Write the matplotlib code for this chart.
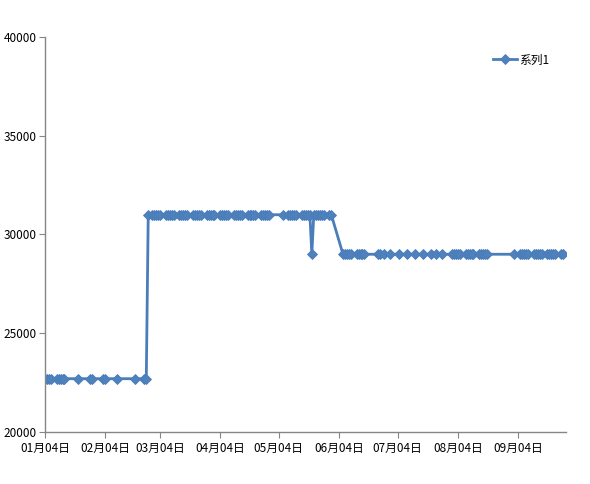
import datetime as dt
import matplotlib
matplotlib.use("Agg")
import matplotlib.pyplot as plt
import matplotlib.dates as mdates

YEAR = 2011

# Jan - Feb, low level
dates_a = ["01-04", "01-05", "01-06", "01-07", "01-10", "01-11", "01-12", "01-13", "01-14",
           "01-21", "01-27", "01-28", "02-03", "02-04", "02-10", "02-19", "02-24", "02-25"]
prices_a = [22700, 22700, 22700, 22700, 22700, 22700, 22700, 22700, 22700,
            22700, 22700, 22700, 22700, 22700, 22700, 22700, 22700, 22700]

# end of Feb - April, high level
dates_b = ["02-26", "02-28", "03-01", "03-02", "03-03", "03-04",
           "03-07", "03-08", "03-09", "03-10", "03-11",
           "03-14", "03-15", "03-16", "03-17", "03-18",
           "03-21", "03-22", "03-23", "03-24", "03-25",
           "03-28", "03-29", "03-30", "03-31", "04-01",
           "04-04", "04-05", "04-06", "04-07", "04-08",
           "04-11", "04-12", "04-13", "04-14", "04-15",
           "04-18", "04-19", "04-20", "04-21", "04-22",
           "04-25", "04-26", "04-27", "04-28", "04-29"]
prices_b = [31000, 31000, 31000, 31000, 31000, 31000,
            31000, 31000, 31000, 31000, 31000,
            31000, 31000, 31000, 31000, 31000,
            31000, 31000, 31000, 31000, 31000,
            31000, 31000, 31000, 31000, 31000,
            31000, 31000, 31000, 31000, 31000,
            31000, 31000, 31000, 31000, 31000,
            31000, 31000, 31000, 31000, 31000,
            31000, 31000, 31000, 31000, 31000]

# May, high level with one dip
dates_c = ["05-06", "05-09", "05-10", "05-11", "05-12", "05-13",
           "05-16", "05-17", "05-18", "05-19", "05-20", "05-21", "05-22",
           "05-23", "05-24", "05-25", "05-26", "05-27", "05-30", "05-31"]
prices_c = [31000, 31000, 31000, 31000, 31000, 31000,
            31000, 31000, 31000, 31000, 31000, 29000, 31000,
            31000, 31000, 31000, 31000, 31000, 31000, 31000]

# June - September, middle level
dates_d = ["06-06", "06-07", "06-08", "06-09", "06-10",
           "06-13", "06-14", "06-15", "06-16", "06-17",
           "06-24", "06-25", "06-27", "06-30", "07-05", "07-09", "07-13",
           "07-17", "07-21", "07-24", "07-27",
           "08-01", "08-02", "08-03", "08-04", "08-05",
           "08-08", "08-09", "08-10", "08-11", "08-12",
           "08-15", "08-16", "08-17", "08-18", "08-19",
           "09-02", "09-05", "09-06", "09-07", "09-08", "09-09",
           "09-12", "09-13", "09-14", "09-15", "09-16",
           "09-19", "09-20", "09-21", "09-22", "09-23",
           "09-26", "09-27"]
prices_d = [29000, 29000, 29000, 29000, 29000,
            29000, 29000, 29000, 29000, 29000,
            29000, 29000, 29000, 29000, 29000, 29000, 29000,
            29000, 29000, 29000, 29000,
            29000, 29000, 29000, 29000, 29000,
            29000, 29000, 29000, 29000, 29000,
            29000, 29000, 29000, 29000, 29000,
            29000, 29000, 29000, 29000, 29000, 29000,
            29000, 29000, 29000, 29000, 29000,
            29000, 29000, 29000, 29000, 29000,
            29000, 29000]

tick_days = ["01-04", "02-04", "03-04", "04-04", "05-04", "06-04", "07-04", "08-04", "09-04"]
tick_labels = ["01月04日", "02月04日", "03月04日", "04月04日", "05月04日",
               "06月04日", "07月04日", "08月04日", "09月04日"]
y_ticks = [20000, 25000, 30000, 35000, 40000]
series_name = "系列1"


def to_date(s):
    m, d = s.split("-")
    return dt.date(YEAR, int(m), int(d))


def main():
    plt.rcParams['font.family'] = ['Noto Sans CJK SC', 'DejaVu Sans']
    dates = [to_date(s) for s in dates_a + dates_b + dates_c + dates_d]
    prices = prices_a + prices_b + prices_c + prices_d

    fig = plt.figure(figsize=(5.9, 4.84), dpi=100)
    ax = fig.add_axes([0.0763, 0.1074, 0.8830, 0.8162])

    ax.plot(dates, prices, color="#4A7EBB", lw=2, marker="D", ms=5, mew=0.6,
            mfc="#4F81BD", mec="#4A7EBB", label=series_name)

    ax.set_xlim(mdates.date2num(to_date("01-04")), mdates.date2num(to_date("09-28")) + 0.5)
    ax.set_ylim(20000, 40000)
    ax.set_yticks(y_ticks)
    ax.set_yticklabels([str(v) for v in y_ticks])
    ax.set_xticks([mdates.date2num(to_date(s)) for s in tick_days])
    ax.set_xticklabels(tick_labels)

    for side in ["top", "right"]:
        ax.spines[side].set_visible(False)
    for side in ["left", "bottom"]:
        ax.spines[side].set_color("#868686")
        ax.spines[side].set_linewidth(1)
    ax.tick_params(axis="both", direction="out", length=4, color="#868686",
                   labelsize=8.5, labelcolor="black")
    ax.tick_params(axis="x", pad=3)
    ax.tick_params(axis="y", pad=2)

    ax.legend(loc="upper left", bbox_to_anchor=(0.84, 0.985), frameon=False,
              fontsize=8.5, handlelength=2.0, handletextpad=0.2)

    fig.savefig("out.png", dpi=100)


if __name__ == "__main__":
    main()
